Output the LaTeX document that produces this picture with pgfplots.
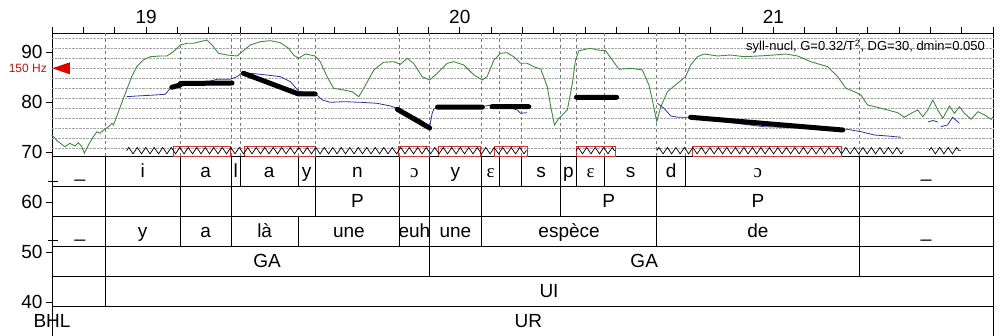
\documentclass[border=0pt]{standalone}
\usepackage{fontspec}
\setmainfont{Liberation Sans}
\newfontfamily\ipafont{Liberation Serif}
\usepackage{pgfplots}
\pgfplotsset{compat=1.18}
\usetikzlibrary{decorations.pathmorphing}
\definecolor{intgreen}{RGB}{60,140,60}
\definecolor{fzblue}{RGB}{50,50,150}
\definecolor{boxred}{RGB}{200,55,55}
\definecolor{trired}{RGB}{220,0,0}
\definecolor{hzred}{RGB}{185,20,20}
\definecolor{gridgray}{RGB}{165,165,165}
\definecolor{vgray}{RGB}{120,120,120}
\newcommand{\tl}[3]{\node[anchor=base,inner sep=0pt,font=\fontsize{19}{20}\selectfont] at (axis cs:#1,#2) {#3};}
\begin{document}
\begin{tikzpicture}
\useasboundingbox (0,0) rectangle (1003pt,336pt);
\begin{axis}[
 at={(52pt,0pt)}, anchor=south west, scale only axis,
 width=941pt, height=303pt,
 xmin=18.7, xmax=21.7, ymin=33.2, ymax=93.8,
 clip=false,
 axis line style={line width=0.8pt, black},
 tick align=outside, major tick length=6pt,
 every tick/.style={black, line width=0.8pt},
 xtick pos=right, xticklabel pos=right,
 ytick pos=left,
 xtick={18.7,18.8,...,21.75},
 xticklabels={,,,19,,,,,,,,,,20,,,,,,,,,,21},
 ytick={40,50,60,70,80,90},
 ticklabel style={font=\fontsize{19}{20}\selectfont},
 /pgf/number format/assume math mode=true,
 extra y ticks={70.74,72.74,74.74,76.74,78.74,80.74,82.74,84.74,86.74,88.74,90.74,92.74},
 extra y tick labels={},
 extra y tick style={grid=major, major tick length=0pt},
 major grid style={densely dotted, draw=gridgray, line width=0.6pt},
 unbounded coords=jump,
]
% vertical dashed lines in pitch area
\addplot[vgray, dashed, line width=0.6pt, forget plot] coordinates {
(18.869,69.2)(18.869,93.8)(18.869,nan)
(19.109,69.2)(19.109,93.8)(19.109,nan)
(19.271,69.2)(19.271,93.8)(19.271,nan)
(19.300,69.2)(19.300,93.8)(19.300,nan)
(19.485,69.2)(19.485,93.8)(19.485,nan)
(19.539,69.2)(19.539,93.8)(19.539,nan)
(19.808,69.2)(19.808,93.8)(19.808,nan)
(19.903,69.2)(19.903,93.8)(19.903,nan)
(20.069,69.2)(20.069,93.8)(20.069,nan)
(20.127,69.2)(20.127,93.8)(20.127,nan)
(20.197,69.2)(20.197,93.8)(20.197,nan)
(20.321,69.2)(20.321,93.8)(20.321,nan)
(20.372,69.2)(20.372,93.8)(20.372,nan)
(20.462,69.2)(20.462,93.8)(20.462,nan)
(20.628,69.2)(20.628,93.8)(20.628,nan)
(20.720,69.2)(20.720,93.8)(20.720,nan)
(21.273,69.2)(21.273,93.8)
};
% tier horizontal lines
\addplot[black, line width=0.8pt, forget plot] coordinates {
(18.7,69.2)(21.7,69.2)(21.7,nan)
(18.7,63.2)(21.7,63.2)(21.7,nan)
(18.7,57.2)(21.7,57.2)(21.7,nan)
(18.7,51.2)(21.7,51.2)(21.7,nan)
(18.7,45.2)(21.7,45.2)(21.7,nan)
(18.7,39.2)(21.7,39.2)
};
% phone tier boundaries
\addplot[black, line width=0.8pt, forget plot] coordinates {
(18.869,63.2)(18.869,69.2)(18.869,nan)
(19.109,63.2)(19.109,69.2)(19.109,nan)
(19.271,63.2)(19.271,69.2)(19.271,nan)
(19.300,63.2)(19.300,69.2)(19.300,nan)
(19.485,63.2)(19.485,69.2)(19.485,nan)
(19.539,63.2)(19.539,69.2)(19.539,nan)
(19.808,63.2)(19.808,69.2)(19.808,nan)
(19.903,63.2)(19.903,69.2)(19.903,nan)
(20.069,63.2)(20.069,69.2)(20.069,nan)
(20.127,63.2)(20.127,69.2)(20.127,nan)
(20.197,63.2)(20.197,69.2)(20.197,nan)
(20.321,63.2)(20.321,69.2)(20.321,nan)
(20.372,63.2)(20.372,69.2)(20.372,nan)
(20.462,63.2)(20.462,69.2)(20.462,nan)
(20.628,63.2)(20.628,69.2)(20.628,nan)
(20.720,63.2)(20.720,69.2)(20.720,nan)
(21.273,63.2)(21.273,69.2)
};
% P tier boundaries
\addplot[black, line width=0.8pt, forget plot] coordinates {
(18.869,57.2)(18.869,63.2)(18.869,nan)
(19.109,57.2)(19.109,63.2)(19.109,nan)
(19.271,57.2)(19.271,63.2)(19.271,nan)
(19.539,57.2)(19.539,63.2)(19.539,nan)
(19.808,57.2)(19.808,63.2)(19.808,nan)
(19.903,57.2)(19.903,63.2)(19.903,nan)
(20.069,57.2)(20.069,63.2)(20.069,nan)
(20.321,57.2)(20.321,63.2)(20.321,nan)
(20.628,57.2)(20.628,63.2)(20.628,nan)
(21.273,57.2)(21.273,63.2)
};
% word tier boundaries
\addplot[black, line width=0.8pt, forget plot] coordinates {
(18.869,51.2)(18.869,57.2)(18.869,nan)
(19.109,51.2)(19.109,57.2)(19.109,nan)
(19.271,51.2)(19.271,57.2)(19.271,nan)
(19.485,51.2)(19.485,57.2)(19.485,nan)
(19.808,51.2)(19.808,57.2)(19.808,nan)
(19.903,51.2)(19.903,57.2)(19.903,nan)
(20.069,51.2)(20.069,57.2)(20.069,nan)
(20.628,51.2)(20.628,57.2)(20.628,nan)
(21.273,51.2)(21.273,57.2)
};
% GA and UI tier boundaries
\addplot[black, line width=0.8pt, forget plot] coordinates {
(18.869,45.2)(18.869,51.2)(18.869,nan)
(19.903,45.2)(19.903,51.2)(19.903,nan)
(21.273,45.2)(21.273,51.2)(21.273,nan)
(18.869,39.2)(18.869,45.2)
};
% small marks at left
\addplot[black, line width=0.8pt, forget plot] coordinates {
(18.687,64.06)(18.719,64.06)(18.719,nan)(18.687,52.26)(18.719,52.26)
};
% intensity (green)
\addplot[intgreen, line width=0.9pt] coordinates {
(18.699,73.40) (18.720,72.06) (18.741,71.06) (18.757,71.74) (18.773,71.20) (18.784,71.86) (18.795,71.06) (18.803,69.74) (18.816,71.40) (18.832,73.06) (18.843,74.06) (18.853,73.74) (18.864,74.40) (18.880,75.06) (18.891,75.74) (18.896,75.40) (18.906,77.06) (18.922,79.74) (18.938,82.40) (18.954,85.06) (18.970,87.06) (18.991,88.40) (19.013,89.06) (19.045,89.20) (19.066,89.20) (19.087,90.06) (19.109,91.40) (19.130,91.74) (19.151,91.74) (19.172,92.06) (19.194,92.40) (19.210,91.40) (19.231,89.74) (19.258,89.40) (19.290,89.20) (19.306,90.06) (19.332,91.40) (19.364,92.06) (19.396,92.26) (19.428,91.86) (19.454,90.74) (19.470,89.40) (19.486,88.74) (19.508,89.60) (19.539,89.20) (19.555,88.06) (19.577,85.06) (19.598,82.74) (19.630,82.40) (19.657,82.06) (19.678,81.06) (19.694,82.74) (19.726,86.40) (19.757,87.94) (19.789,88.06) (19.811,87.54) (19.832,88.74) (19.853,87.74) (19.880,85.06) (19.904,84.40) (19.928,85.74) (19.960,87.74) (19.981,88.06) (20.013,87.40) (20.045,85.40) (20.072,84.40) (20.087,85.06) (20.109,88.40) (20.130,89.74) (20.151,89.86) (20.172,89.06) (20.194,87.74) (20.215,87.74) (20.236,87.06) (20.258,86.60) (20.279,83.06) (20.290,79.06) (20.302,75.40) (20.316,76.74) (20.343,78.40) (20.359,83.74) (20.369,88.40) (20.380,90.26) (20.417,90.74) (20.439,90.40) (20.465,90.26) (20.486,88.40) (20.508,86.54) (20.545,86.74) (20.582,86.40) (20.603,83.40) (20.614,80.40) (20.628,76.06) (20.641,79.06) (20.662,82.06) (20.694,83.74) (20.720,85.06) (20.736,87.40) (20.758,89.06) (20.779,89.60) (20.822,89.20) (20.864,89.40) (20.907,89.06) (20.970,89.26) (21.002,89.40) (21.040,89.60) (21.077,89.20) (21.119,88.06) (21.173,87.06) (21.205,85.06) (21.231,82.74) (21.258,82.06) (21.279,81.40) (21.300,79.40) (21.332,78.94) (21.364,78.40) (21.396,77.86) (21.417,76.94) (21.439,77.74) (21.460,78.40) (21.476,77.06) (21.492,78.40) (21.508,80.40) (21.524,78.40) (21.540,76.74) (21.561,79.20) (21.577,77.74) (21.593,79.06) (21.609,77.74) (21.630,76.54) (21.652,78.06) (21.673,77.40) (21.694,76.54) (21.700,76.94)
};
% F0 (blue)
\addplot[fzblue, line width=0.8pt] coordinates {
(18.938,81.06) (18.970,81.20) (19.013,81.34) (19.061,81.54) (19.077,82.74) (19.109,83.20) (19.172,83.60) (19.226,84.54) (19.268,84.54) (19.290,85.06) (19.306,85.86) (19.332,85.74) (19.385,85.40) (19.428,85.06) (19.460,84.06) (19.486,82.20) (19.523,81.60) (19.545,81.34) (19.562,80.40) (19.587,79.94) (19.630,80.06) (19.683,79.94) (19.736,79.74) (19.779,79.20) (19.800,78.74) (19.827,78.06) (19.875,76.40) (19.904,75.06) (19.912,77.74) (19.917,78.54) (19.928,78.94) (20.002,79.00) (20.072,79.06) (20.098,79.40) (20.146,79.20) (20.183,78.40) (20.194,77.74) (20.215,77.86)
(20.215,nan)
(20.630,79.74) (20.651,78.74) (20.673,77.20) (20.696,76.94) (20.728,76.94) (20.969,75.06) (21.235,74.54) (21.279,74.06) (21.321,73.40) (21.364,73.20) (21.407,72.94)
(21.407,nan)
(21.492,76.00) (21.508,76.30) (21.524,76.00)
(21.524,nan)
(21.534,75.06) (21.555,75.40) (21.571,76.94) (21.593,75.74)
};
% stylization (black)
\addplot[black, line width=5pt, line cap=round] coordinates {
(19.082,82.94) (19.109,83.40) (19.109,nan)
(19.109,83.70) (19.274,83.80) (19.274,nan)
(19.310,85.75) (19.486,81.60) (19.539,81.60) (19.539,nan)
(19.801,78.54) (19.904,74.80) (19.904,nan)
(19.929,78.97) (20.072,78.97) (20.072,nan)
(20.103,79.06) (20.220,79.06) (20.220,nan)
(20.372,80.94) (20.500,80.94) (20.500,nan)
(20.736,76.94) (21.221,74.40)
};
% nucleus boxes
\addplot[boxred, line width=0.9pt] coordinates {
(19.087,69.2)(19.087,71.2)(19.268,71.2)(19.268,69.2)(19.087,69.2)(19.087,nan)
(19.314,69.2)(19.314,71.2)(19.539,71.2)(19.539,69.2)(19.314,69.2)(19.314,nan)
(19.805,69.2)(19.805,71.2)(19.904,71.2)(19.904,69.2)(19.805,69.2)(19.805,nan)
(19.933,69.2)(19.933,71.2)(20.066,71.2)(20.066,69.2)(19.933,69.2)(19.933,nan)
(20.109,69.2)(20.109,71.2)(20.215,71.2)(20.215,69.2)(20.109,69.2)(20.109,nan)
(20.371,69.2)(20.371,71.2)(20.497,71.2)(20.497,69.2)(20.371,69.2)(20.371,nan)
(20.742,69.2)(20.742,71.2)(21.217,71.2)(21.217,69.2)(20.742,69.2)
};
% voiced portions (zigzag)
\addplot[black, line width=0.7pt, decorate, decoration={zigzag, segment length=8.5pt, amplitude=3.2pt}] coordinates {(18.938,70.27) (20.215,70.27)};
\addplot[black, line width=0.7pt, decorate, decoration={zigzag, segment length=8.5pt, amplitude=3.2pt}] coordinates {(20.371,70.27) (20.497,70.27)};
\addplot[black, line width=0.7pt, decorate, decoration={zigzag, segment length=8.5pt, amplitude=3.2pt}] coordinates {(20.628,70.27) (21.415,70.27)};
\addplot[black, line width=0.7pt, decorate, decoration={zigzag, segment length=8.5pt, amplitude=3.2pt}] coordinates {(21.496,70.27) (21.598,70.27)};
% 150 Hz marker
\addplot[fill=trired, draw=none] coordinates {(18.701,86.74) (18.757,87.94) (18.757,85.54) (18.701,86.74)};
\node[anchor=east, inner sep=0pt, text=hzred, font=\fontsize{12}{14}\selectfont] at (axis cs:18.7,86.74) [xshift=-5pt] {150 Hz};
\node[anchor=north east, inner sep=0pt, font=\fontsize{13}{15}\selectfont] at (axis cs:21.7,93.8) [xshift=-8pt, yshift=-7pt] {syll-nucl, G=0.32/T\textsuperscript{2}, DG=30, dmin=0.050};
% phone tier
\tl{18.789}{64.9}{\_}
\tl{18.989}{64.9}{i}
\tl{19.190}{64.9}{a}
\tl{19.2855}{64.9}{l}
\tl{19.3925}{64.9}{a}
\tl{19.512}{64.9}{y}
\tl{19.6735}{64.9}{n}
\tl{19.8555}{64.9}{\ipafont ɔ}
\tl{19.986}{64.9}{y}
\tl{20.098}{64.9}{\ipafont ɛ}
\tl{20.259}{64.9}{s}
\tl{20.3465}{64.9}{p}
\tl{20.417}{64.9}{\ipafont ɛ}
\tl{20.545}{64.9}{s}
\tl{20.674}{64.9}{d}
\tl{20.950}{64.9}{\ipafont ɔ}
\tl{21.4865}{64.9}{\_}
% P tier
\tl{19.6735}{58.9}{P}
\tl{20.4745}{58.9}{P}
\tl{20.9505}{58.9}{P}
% word tier
\tl{18.789}{52.9}{\_}
\tl{18.989}{52.9}{y}
\tl{19.190}{52.9}{a}
\tl{19.378}{52.9}{là}
\tl{19.6465}{52.9}{une}
\tl{19.8555}{52.9}{euh}
\tl{19.986}{52.9}{une}
\tl{20.3485}{52.9}{espèce}
\tl{20.9505}{52.9}{de}
\tl{21.4865}{52.9}{\_}
% GA tier
\tl{19.386}{46.9}{GA}
\tl{20.588}{46.9}{GA}
% UI tier
\tl{20.2845}{40.9}{UI}
% UR tier
\tl{18.700}{34.9}{BHL}
\tl{20.219}{34.9}{UR}
\end{axis}
\end{tikzpicture}
\end{document}
